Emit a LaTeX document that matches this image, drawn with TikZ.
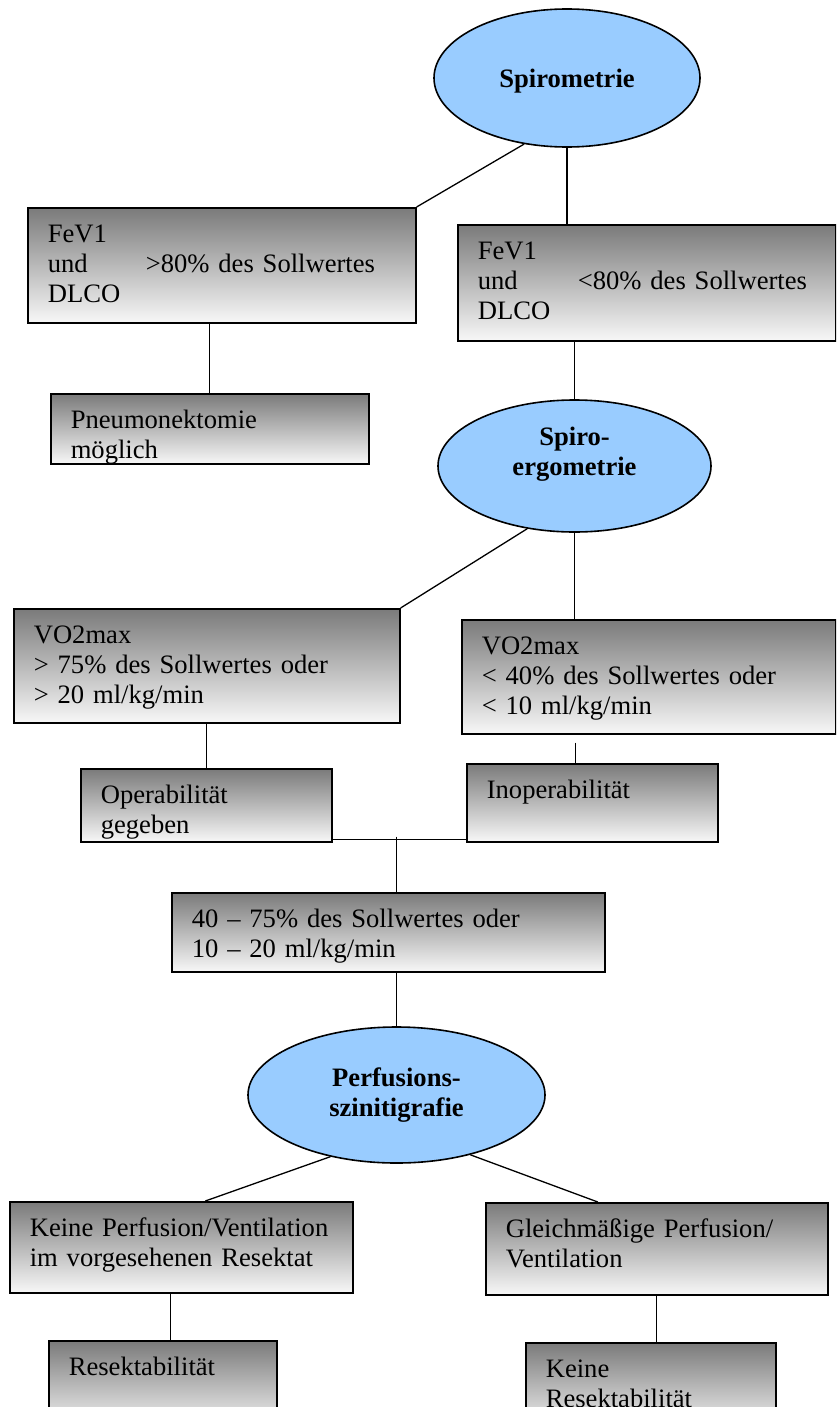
\documentclass[tikz,border=0pt]{standalone}
\usepackage{fontspec}
\setmainfont{Liberation Serif}
\usetikzlibrary{shapes.geometric,calc}
\definecolor{ovalblue}{HTML}{99CCFF}
\newcommand{\diafont}{\fontsize{26.6}{29.6}\selectfont}
\tikzset{
  testbox/.style={draw, line width=1.6pt, anchor=north west, align=left,
    inner xsep=20pt, inner ysep=0pt, text height=35pt, font=\diafont,
    top color=black!52, bottom color=black!3},
  exambox/.style={ellipse, draw, line width=1.6pt, fill=ovalblue, align=center,
    inner sep=0pt, font=\diafont\bfseries},
  link/.style={line width=1.3pt}
}
\begin{document}
\begin{tikzpicture}[x=1pt,y=-1pt]
\useasboundingbox (0,0) rectangle (836,1407);
\clip (0,0) rectangle (836,1407);
\node[exambox, minimum width=266pt, minimum height=138pt, text depth=0pt] (spiro) at (567,78) {Spirometrie};
\node[testbox, text width=348pt, text depth=80pt] (fevA) at (27,207)
  {FeV1\\\makebox[98pt][l]{und}>80\% des Sollwertes\\DLCO};
\node[testbox, text width=338pt, text depth=81pt] (fevB) at (457,224)
  {FeV1\\\makebox[100pt][l]{und}<80\% des Sollwertes\\DLCO};
\node[testbox, text width=278pt, text depth=35pt] (pneu) at (50,393) {Pneumonektomie\\möglich};
\node[exambox, minimum width=273pt, minimum height=132pt, text depth=29.6pt] (spiroerg) at (574.5,466) {Spiro-\\ergometrie};
\node[testbox, text width=346pt, text depth=79pt] (vo2A) at (13,608)
  {VO2max\\> 75\% des Sollwertes oder\\> 20 ml/kg/min};
\node[testbox, text width=334pt, text depth=79pt] (vo2B) at (461,619)
  {VO2max\\< 40\% des Sollwertes oder\\< 10 ml/kg/min};
\node[testbox, text width=211pt, text depth=38pt] (opA) at (80,768) {Operabilität\\gegeben};
\node[testbox, text width=211pt, text depth=43pt] (inop) at (466,763) {Inoperabilität};
\node[testbox, text width=393pt, text depth=44pt] (mid) at (171,892)
  {40 – 75\% des Sollwertes oder\\10 – 20 ml/kg/min};
\node[exambox, minimum width=297pt, minimum height=136pt] (perf) at (396.5,1095) {Perfusions-\\szinitigrafie};
\node[testbox, text width=303pt, text depth=56pt] (keineP) at (9,1201)
  {Keine Perfusion/Ventilation\\im vorgesehenen Resektat};
\node[testbox, text width=302pt, text depth=57pt] (gleich) at (485,1202)
  {Gleichmäßige Perfusion/\\Ventilation};
\node[testbox, text width=188pt, text depth=55pt] (resA) at (48,1340) {Resektabilität};
\node[testbox, text width=210pt, text depth=55pt] (resB) at (525,1342) {Keine\\Resektabilität};
\coordinate (inopTop) at ($(inop.north)+(-17,0)$);
\coordinate (join) at ($(perf.north |- opA.south)+(0,-6)$);
\coordinate (resTop) at ($(resA.north)+(8,0)$);
\draw[link] (spiro.237) -- (fevA.north east);
\draw[link] (spiro.south) -- (spiro.south |- fevB.north);
\draw[link] (pneu.north |- fevA.south) -- (pneu.north);
\draw[link] (spiroerg.north |- fevB.south) -- (spiroerg.north);
\draw[link] (spiroerg.233) -- (vo2A.north east);
\draw[link] (spiroerg.south) -- (spiroerg.south |- vo2B.north);
\draw[link] (vo2A.south) -- (vo2A.south |- opA.north);
\draw[link, shorten <=8pt] (inopTop |- vo2B.south) -- (inopTop);
\draw[link] ([yshift=3pt]opA.south east) -- ([yshift=3pt]inop.south west);
\draw[link] (join) -- (join |- mid.north);
\draw[link] (perf.north |- mid.south) -- (perf.north);
\draw[link] (perf.223) -- ($(keineP.north)+(24,0)$);
\draw[link] (perf.321) -- ($(gleich.north)+(-59,0)$);
\draw[link] (resTop |- keineP.south) -- (resTop);
\draw[link] (gleich.south) -- (gleich.south |- resB.north);
\end{tikzpicture}
\end{document}
